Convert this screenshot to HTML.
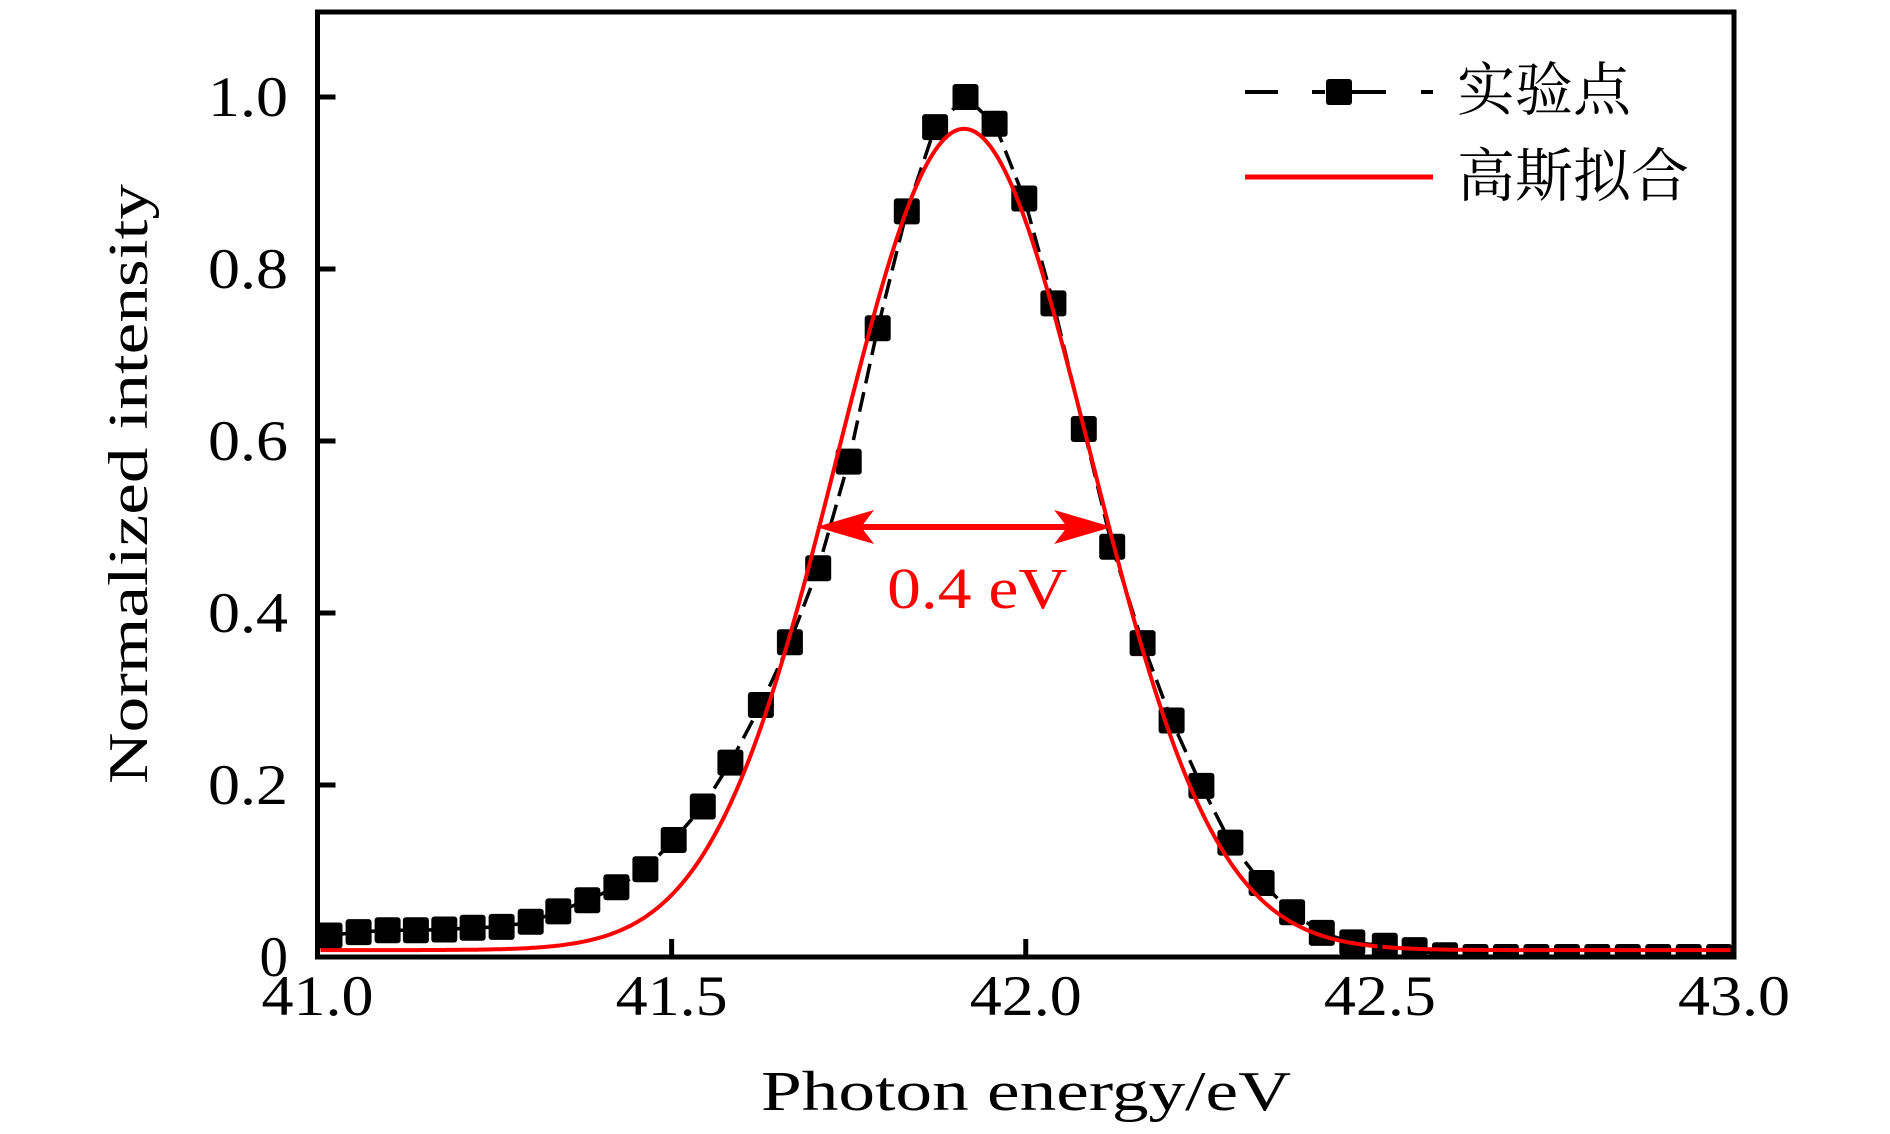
<!DOCTYPE html>
<html><head><meta charset="utf-8"><style>
html,body{margin:0;padding:0;background:#fff}
svg{display:block}
text{font-family:"Liberation Serif","Noto Serif CJK SC",serif}
</style></head>
<body>
<svg id="chart" width="1890" height="1134" viewBox="0 0 1890 1134" xmlns="http://www.w3.org/2000/svg">
<defs><clipPath id="pc"><rect x="317.5" y="12" width="1416.5" height="945"/></clipPath></defs>
<rect width="1890" height="1134" fill="#fff"/>
<g id="plot" clip-path="url(#pc)"></g>
<g id="ann"></g>
<g id="axes"></g>
<text transform="translate(147,484) rotate(-90)" text-anchor="middle" font-size="56" textLength="600" lengthAdjust="spacingAndGlyphs">Normalized intensity</text>
<text x="1026" y="1110" text-anchor="middle" font-size="56" textLength="530" lengthAdjust="spacingAndGlyphs">Photon energy/eV</text>
<g>
  <line x1="1245" y1="92" x2="1433" y2="92" stroke="#000" stroke-width="4" stroke-dasharray="33,34,13,0,0,27,34,35,12"/>
  <rect x="1326" y="79" width="26" height="26" rx="3" fill="#000"/>
  <text x="1457" y="110" font-size="58" font-family="'Noto Serif CJK SC','Noto Sans CJK SC',serif">实验点</text>
  <line x1="1245" y1="177" x2="1433" y2="177" stroke="#f00" stroke-width="5"/>
  <text x="1457" y="196" font-size="58" font-family="'Noto Serif CJK SC','Noto Sans CJK SC',serif">高斯拟合</text>
</g>
</svg>
<script>
const expEnergies = [41.017,41.058,41.099,41.139,41.179,41.219,41.260,41.301,41.340,41.381,41.422,41.463,41.503,41.544,41.583,41.626,41.667,41.707,41.750,41.791,41.832,41.872,41.915,41.956,41.998,42.039,42.082,42.122,42.165,42.206,42.248,42.289,42.333,42.376,42.418,42.461,42.507,42.549,42.592,42.635,42.678,42.721,42.764,42.807,42.850,42.893,42.936,42.979];
const expValues = [0.025,0.029,0.031,0.031,0.032,0.034,0.035,0.041,0.053,0.066,0.081,0.102,0.136,0.175,0.226,0.293,0.366,0.452,0.576,0.731,0.867,0.965,1.0,0.969,0.882,0.760,0.614,0.477,0.365,0.275,0.199,0.133,0.086,0.052,0.028,0.017,0.013,0.008,0.002,0.0,0.0,0.0,0.0,0.0,0.0,0.0,0.0,0.0];
const fitParams = [41.913, 0.955, 0.1777, 0.008]; // center, amplitude, sigma, offset
const xTicks = [41.0, 41.5, 42.0, 42.5, 43.0];
const xTickLabels = ["41.0","41.5","42.0","42.5","43.0"];
const yTicks = [0, 0.2, 0.4, 0.6, 0.8, 1.0];
const yTickLabels = ["0","0.2","0.4","0.6","0.8","1.0"];
const fwhmRange = [41.704, 42.122, 0.5];

const X0=317.5, X1=1734, Y0=957, YT=12;
const sx = v => X0 + (v-41)*(X1-X0)/2;
const sy = v => Y0 - v*860;
const NS="http://www.w3.org/2000/svg";
const plot=document.getElementById('plot'), axes=document.getElementById('axes'), ann=document.getElementById('ann');
function mk(tag, attrs, parent){const e=document.createElementNS(NS,tag);for(const k in attrs)e.setAttribute(k,attrs[k]);parent.appendChild(e);return e;}

let d='';
expValues.forEach((v,i)=>{const x=sx(expEnergies[i]);d+=(d?'L':'M')+x.toFixed(1)+','+sy(v).toFixed(1);});
const expLine=mk('path',{d:d,fill:'none',stroke:'#000','stroke-width':3.5,'stroke-dasharray':'20,9'},plot);


expValues.forEach((v,i)=>{
  const x=sx(expEnergies[i]);
  const r=mk('rect',{x:(x-13).toFixed(1),y:(sy(v)-13).toFixed(1),width:26,height:26,rx:3,fill:'#000'},plot);
  
  
});
let fd='';
for(let px=X0+3;px<=X1-2;px+=2){
  const xv=41+(px-X0)*2/(X1-X0);
  const yv=fitParams[3]+fitParams[1]*Math.exp(-Math.pow(xv-fitParams[0],2)/(2*fitParams[2]*fitParams[2]));
  fd+=(fd?'L':'M')+px.toFixed(1)+','+sy(yv).toFixed(1);
}
const fit=mk('path',{d:fd,fill:'none',stroke:'#f00','stroke-width':4},plot);



const ax1=sx(fwhmRange[0]), ax2=sx(fwhmRange[1]), ay=sy(fwhmRange[2]);
const al=mk('line',{x1:ax1+30,y1:ay,x2:ax2-30,y2:ay,stroke:'#f00','stroke-width':6},ann);


const h1=mk('path',{d:`M${ax1},${ay} L${ax1+58},${ay-17} L${ax1+45},${ay} L${ax1+58},${ay+17}Z`,fill:'#f00'},ann);


const h2=mk('path',{d:`M${ax2},${ay} L${ax2-58},${ay-17} L${ax2-45},${ay} L${ax2-58},${ay+17}Z`,fill:'#f00'},ann);


const ft=mk('text',{x:(ax1+ax2)/2+13,y:608,'text-anchor':'middle','font-size':58,fill:'#f00',textLength:180,lengthAdjust:'spacingAndGlyphs'},ann);
ft.textContent='0.4 eV';



const fr=mk('rect',{x:X0,y:YT,width:X1-X0,height:Y0-YT,fill:'none',stroke:'#000','stroke-width':5},axes);


xTicks.forEach((t,i)=>{
  const x=sx(t);
  const tk=mk('line',{x1:x,y1:Y0,x2:x,y2:Y0-18,stroke:'#000','stroke-width':5},axes);
  
  
  const lb=mk('text',{x:x,y:1015,'text-anchor':'middle','font-size':57,textLength:112,lengthAdjust:'spacingAndGlyphs'},axes);
  lb.textContent=xTickLabels[i];
  
  
});
yTicks.forEach((t,i)=>{
  const y=sy(t);
  const tk=mk('line',{x1:X0,y1:y,x2:X0+18,y2:y,stroke:'#000','stroke-width':5},axes);
  
  
  const attrs={x:288,y:y+19,'text-anchor':'end','font-size':57};
  if(yTickLabels[i].length>1){attrs.textLength=80;attrs.lengthAdjust='spacingAndGlyphs';}
  const lb=mk('text',attrs,axes);
  lb.textContent=yTickLabels[i];
  
  
});
</script>
</body></html>
